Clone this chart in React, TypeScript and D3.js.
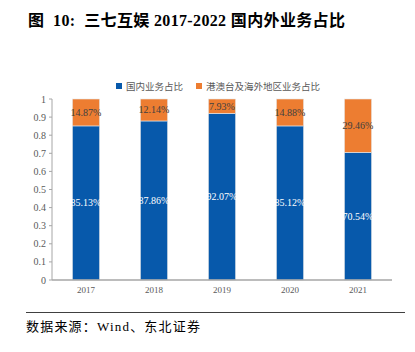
import React from "react";
import * as d3 from "d3";

const years = ["2017", "2018", "2019", "2020", "2021"];
const domestic = [0.8513, 0.8786, 0.9207, 0.8512, 0.7054];
const overseas = [0.1487, 0.1214, 0.0793, 0.1488, 0.2946];
const yTicks = [0, 0.1, 0.2, 0.3, 0.4, 0.5, 0.6, 0.7, 0.8, 0.9, 1];
const seriesNames = ["国内业务占比", "港澳台及海外地区业务占比"];

const W = 415, H = 352;
const left = 52, right = 392, top = 99, bottom = 280;
const BLUE = "#0759AB";
const ORANGE = "#ED7D31";
const FONT = "'Liberation Serif', 'Noto Sans CJK SC', serif";

export default function App() {
  const x = d3.scaleBand<string>().domain(years).range([left, right]).paddingInner(0.6).paddingOuter(0.3);
  const y = d3.scaleLinear().domain([0, 1]).range([bottom, top]);
  const fmt = (v: number) => (v * 100).toFixed(2) + "%";
  return (
    <svg width={W} height={H} style={{ position: "absolute", left: 0, top: 0, background: "#fff" }} fontFamily={FONT}>
      <text x={28} y={26} fontSize={16} fontWeight="bold" fill="#000" style={{ whiteSpace: "pre" }} textLength={317} lengthAdjust="spacing">图  10:  三七互娱 2017-2022 国内外业务占比</text>
      {/* legend */}
      <rect x={116} y={83} width={6} height={6} fill={BLUE} />
      <text x={126} y={90} fontSize={9.5} fill="#595959">{seriesNames[0]}</text>
      <rect x={196} y={83} width={6} height={6} fill={ORANGE} />
      <text x={206} y={90} fontSize={9.5} fill="#595959">{seriesNames[1]}</text>
      {/* y axis */}
      <line x1={left} x2={left} y1={top} y2={bottom} stroke="#a6a6a6" />
      {yTicks.map((t) => (
        <g key={t}>
          <line x1={left - 3} x2={left} y1={y(t)} y2={y(t)} stroke="#a6a6a6" />
          <text x={left - 6} y={y(t) + 3.5} fontSize={10} textAnchor="end" fill="#595959">{t}</text>
        </g>
      ))}
      {/* bars */}
      {years.map((yr, i) => {
        const bx = x(yr)!;
        const bw = x.bandwidth();
        const d = domestic[i];
        const o = overseas[i];
        return (
          <g key={yr}>
            <rect x={bx} y={y(d)} width={bw} height={y(0) - y(d)} fill={BLUE} stroke="#e8e8e8" strokeWidth={0.6} />
            <rect x={bx} y={y(d + o)} width={bw} height={y(d) - y(d + o)} fill={ORANGE} stroke="#e8e8e8" strokeWidth={0.6} />
            <text x={bx + bw / 2} y={y(d / 2) + 3.5} fontSize={10} textAnchor="middle" fill="#fff">{fmt(d)}</text>
            <text x={bx + bw / 2} y={y(d + o / 2) + 3.5} fontSize={10} textAnchor="middle" fill="#404040">{fmt(o)}</text>
            <text x={bx + bw / 2} y={bottom + 13} fontSize={9} textAnchor="middle" fill="#595959">{yr}</text>
          </g>
        );
      })}
      <line x1={left} x2={right} y1={bottom} y2={bottom} stroke="#a6a6a6" strokeWidth={1.5} />
      {/* footer */}
      <line x1={26} x2={405} y1={312.5} y2={312.5} stroke="#404040" strokeWidth={1} />
      <text x={26} y={331} fontSize={13} fill="#000" textLength={174} lengthAdjust="spacing">数据来源：Wind、东北证券</text>
    </svg>
  );
}
